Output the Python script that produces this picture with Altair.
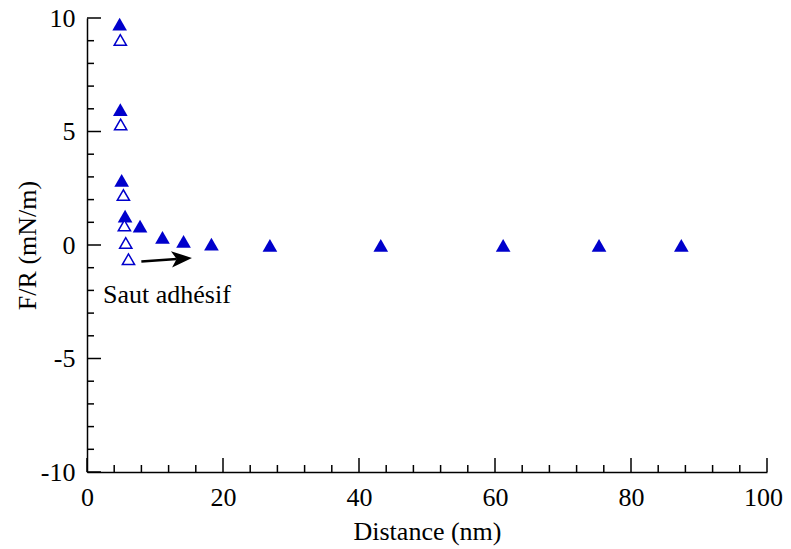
import altair as alt
import pandas as pd

# approach (filled triangles)
approach_x = [4.8, 4.9, 5.1, 5.6, 7.8, 11.1, 14.2, 18.3, 26.9, 43.2, 61.2, 75.3, 87.4]
approach_y = [9.73, 5.96, 2.85, 1.27, 0.83, 0.34, 0.16, 0.04, -0.02, -0.02, -0.02, -0.02, -0.02]
# retraction (open triangles)
retract_x = [4.9, 4.95, 5.35, 5.5, 5.7, 6.1]
retract_y = [9.03, 5.31, 2.2, 0.86, 0.09, -0.63]

# axis ticks
x_major = [0, 20, 40, 60, 80, 100]
x_minor = [4, 8, 12, 16, 24, 28, 32, 36, 44, 48, 52, 56, 64, 68, 72, 76, 84, 88, 92, 96]
y_major = [-10, -5, 0, 5, 10]
y_minor = [-9, -8, -7, -6, -4, -3, -2, -1, 1, 2, 3, 4, 6, 7, 8, 9]

# annotation
note_text = ["Saut adhésif"]
note_x = [2.35]
note_y = [-2.54]
arrow_x = [7.99, 13.2]
arrow_y = [-0.73, -0.62]
head_x = [13.93]
head_y = [-0.6]

BLUE = "#0000CC"
FONT = "Liberation Serif"
W, H = 680, 454

xs = alt.Scale(domain=[0, 100], nice=False, zero=False)
ys = alt.Scale(domain=[-10, 10], nice=False, zero=False)
x_axis = alt.Axis(values=x_major, ticks=False, grid=False, labelPadding=12,
                  titlePadding=8, labelFlush=False, labelExpr="'' + datum.value",
                  labelOffset={"condition": {"test": "datum.value === 100", "value": -4},
                               "value": 0})
y_axis = alt.Axis(values=y_major, ticks=False, grid=False, labelPadding=12,
                  titlePadding=0, labelFlush=False, labelExpr="'' + datum.value")


def X(f="x"):
    return alt.X(f"{f}:Q", scale=xs, title="Distance (nm)", axis=x_axis)


def Y(f="y"):
    return alt.Y(f"{f}:Q", scale=ys, title="F/R (mN/m)", axis=y_axis)


df_a = pd.DataFrame({"x": approach_x, "y": approach_y})
df_r = pd.DataFrame({"x": retract_x, "y": retract_y})

filled = alt.Chart(df_a).mark_point(
    shape="triangle-up", filled=True, color=BLUE, size=215, opacity=1
).encode(x=X(), y=Y())

hollow = alt.Chart(df_r).mark_point(
    shape="triangle-up", filled=False, fill="white", fillOpacity=1,
    stroke=BLUE, strokeWidth=1.5, size=150, opacity=1
).encode(x=X(), y=Y())


def xticks(vals, length):
    return alt.Chart(pd.DataFrame({"x": vals})).mark_rule(
        color="black", strokeWidth=1.5
    ).encode(x=X(), y=alt.value(H), y2=alt.value(H - length))


def yticks(vals, length):
    return alt.Chart(pd.DataFrame({"y": vals})).mark_rule(
        color="black", strokeWidth=1.5
    ).encode(y=Y(), x=alt.value(0), x2=alt.value(length))


shaft = alt.Chart(pd.DataFrame({"x": [arrow_x[0]], "y": [arrow_y[0]],
                                "x2": [arrow_x[1]], "y2": [arrow_y[1]]})).mark_rule(
    color="black", strokeWidth=2.5
).encode(x=X(), y=Y(), x2="x2:Q", y2="y2:Q")

head = alt.Chart(pd.DataFrame({"x": head_x, "y": head_y})).mark_point(
    shape="M1,0L-1,-0.8L-0.5,0L-1,0.8Z", filled=True, color="black",
    size=420, angle=356, opacity=1
).encode(x=X(), y=Y())

note = alt.Chart(pd.DataFrame({"x": note_x, "y": note_y, "t": note_text})).mark_text(
    align="left", baseline="alphabetic", font=FONT, fontSize=26, color="black"
).encode(x=X(), y=Y(), text="t:N")

chart = alt.layer(
    filled,
    xticks(x_major, 14), xticks(x_minor, 7),
    yticks(y_major, 14), yticks(y_minor, 7),
    hollow, shaft, head, note,
).properties(
    width=W, height=H,
    autosize=alt.AutoSizeParams(type="none"),
    padding={"left": 79, "top": 10, "right": 16, "bottom": 76},
).configure_view(stroke=None).configure_axis(
    domainColor="black", domainWidth=1.5,
    labelFont=FONT, labelFontSize=26, labelColor="black",
    titleFont=FONT, titleFontSize=26, titleFontWeight="normal", titleColor="black",
)

chart.save("out.html", embed_options={"renderer": "svg", "actions": False})
